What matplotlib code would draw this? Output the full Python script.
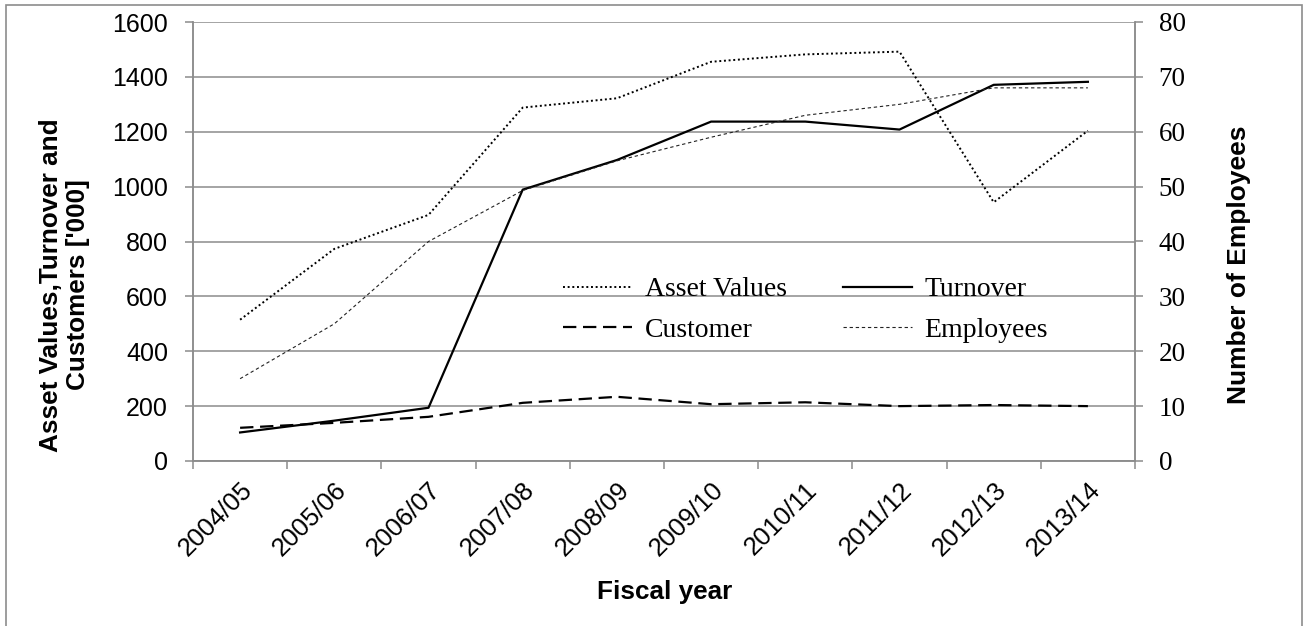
import numpy as np
import matplotlib
matplotlib.use("Agg")
import matplotlib.pyplot as plt
from matplotlib.patches import Rectangle

# datos por año fiscal
years = ["2004/05", "2005/06", "2006/07", "2007/08", "2008/09",
         "2009/10", "2010/11", "2011/12", "2012/13", "2013/14"]
asset_values = [515, 773, 897, 1288, 1322, 1455, 1482, 1492, 943, 1204]
turnover = [104, 147, 194, 989, 1097, 1237, 1237, 1208, 1371, 1382]
customer = [121, 139, 161, 212, 234, 207, 214, 200, 204, 200]
employees = [15, 25, 40, 49.3, 54.7, 59, 63, 65, 68, 68]  # eje derecho

W, H = 1305, 626
gris = "#8c8c8c"
sans = "Liberation Sans"
serif = "Liberation Serif"

fig = plt.figure(figsize=(W / 100, H / 100), dpi=100)
# marco exterior del grafico
fig.patches.append(Rectangle((6 / W, -0.1), (1302 - 6) / W, 1.1 - 5 / H,
                             transform=fig.transFigure, fill=False,
                             edgecolor=gris, lw=1.2))

ax = fig.add_axes([193 / W, 1 - 461 / H, (1135 - 193) / W, (461 - 22) / H])
ax2 = ax.twinx()

x = np.arange(len(years))
l1, = ax.plot(x, asset_values, color="black", lw=1.4, ls=(0, (1, 1.4)),
              label="Asset Values")
l2, = ax.plot(x, turnover, color="black", lw=1.6, ls="-", label="Turnover")
l3, = ax.plot(x, customer, color="black", lw=1.6, ls=(0, (6, 3)),
              label="Customer")
l4, = ax2.plot(x, employees, color="#222222", lw=0.8, ls=(0, (3, 2.5)),
               label="Employees")

ax.set_xlim(-0.5, len(years) - 0.5)
ax.set_ylim(0, 1600)
ax.set_yticks(np.arange(0, 1601, 200))
ax2.set_ylim(0, 80)
ax2.set_yticks(np.arange(0, 81, 10))

# rejilla y ejes en gris
ax.grid(axis="y", color=gris, lw=1.1)
ax.set_axisbelow(True)
for a in (ax, ax2):
    for s in a.spines.values():
        s.set_color(gris)
        s.set_linewidth(1.1)
    a.spines["top"].set_visible(False)

# marcas entre categorias, etiquetas en el centro
ax.set_xticks(x)
ax.set_xticks(np.arange(-0.5, len(years)), minor=True)
ax.tick_params(axis="x", which="major", length=0, pad=12)
ax.tick_params(axis="x", which="minor", length=6, width=1.1, color=gris)
ax.set_xticklabels(years, rotation=45, ha="right", rotation_mode="anchor",
                   fontsize=18.5, family=sans)
ax.tick_params(axis="y", length=6, width=1.1, color=gris, labelsize=18, pad=12)
for t in ax.get_yticklabels():
    t.set_family(sans)
ax2.tick_params(axis="y", length=6, width=1.1, color=gris, labelsize=19.5, pad=11)
for t in ax2.get_yticklabels():
    t.set_family(serif)

# titulos de ejes
fig.text(64.5 / W, 1 - 285 / H, "Asset Values,Turnover and\nCustomers ['000]",
         rotation=90, ha="center", va="center", multialignment="center",
         fontsize=18.8, fontweight="bold", family=sans, linespacing=1.2)
fig.text(1239 / W, 1 - 265 / H, "Number of Employees", rotation=90,
         ha="center", va="center", fontsize=19, fontweight="bold", family=sans)
fig.text(665 / W, 1 - 599 / H, "Fiscal year", ha="center", va="baseline",
         fontsize=18.8, fontweight="bold", family=sans)

# leyenda por filas: Asset Values, Turnover / Customer, Employees
leg = ax.legend(handles=[l1, l3, l2, l4], ncol=2, frameon=False,
                loc="upper left", bbox_to_anchor=((563 - 193) / 942, (461 - 277) / 439),
                borderpad=0, borderaxespad=0, handlelength=2.5, handletextpad=0.45,
                columnspacing=2.0, labelspacing=0.55,
                prop={"family": serif, "size": 20})

fig.savefig("out.png", dpi=100)
